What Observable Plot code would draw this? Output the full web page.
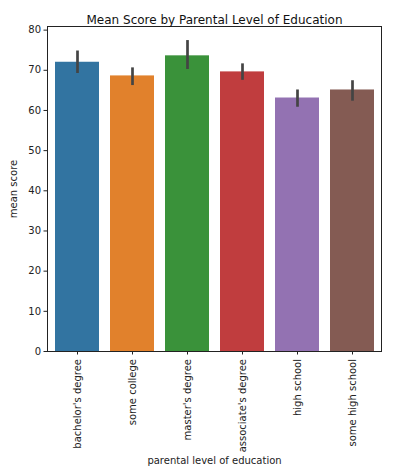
<!DOCTYPE html>
<html><head><meta charset="utf-8">
<script src="https://cdn.jsdelivr.net/npm/d3@7"></script>
<script src="https://cdn.jsdelivr.net/npm/@observablehq/plot@0.6"></script>
<style>body{margin:0;background:#fff}</style>
</head><body><div id="chart"></div>
<script>
const categories = ["bachelor's degree","some college","master's degree","associate's degree","high school","some high school"];
const meanScores = [72.0, 68.6, 73.6, 69.6, 63.1, 65.1];
const ciLow = [69.2, 66.2, 70.2, 67.5, 60.8, 62.3];
const ciHigh = [74.8, 70.6, 77.4, 71.6, 65.1, 67.4];
const colors = ["#3274a1","#e1812c","#3a923a","#c03d3e","#9372b2","#845b53"];
const yTicks = [0,10,20,30,40,50,60,70,80];

const data = categories.map((c,i)=>({cat:c, v:meanScores[i], lo:ciLow[i], hi:ciHigh[i]}));

const chart = Plot.plot({
  width: 408, height: 471,
  marginLeft: 47, marginRight: 27, marginTop: 26, marginBottom: 120,
  style: {fontFamily: "DejaVu Sans", fontSize: "10px", color: "#222", background: "#fff"},
  x: {domain: categories, paddingInner: 0.2, paddingOuter: 0.1, label: null},
  y: {domain: [0, 80.9], label: null},
  color: {domain: categories, range: colors},
  marks: [
    Plot.barY(data, {x: "cat", y: "v", fill: "cat"}),
    Plot.ruleX(data, {x: "cat", y1: "lo", y2: "hi", stroke: "#444", strokeWidth: 2.7}),
    Plot.frame({stroke: "#222", strokeWidth: 1}),
    Plot.axisY({ticks: yTicks, tickSize: 3.5, tickPadding: 3, fontSize: 10, label: "mean score", labelAnchor: "center", labelArrow: "none", labelOffset: 38}),
    Plot.axisX({tickSize: 3.5, tickRotate: -90, tickPadding: 4, fontSize: 10, label: "parental level of education", labelAnchor: "center", labelArrow: "none", labelOffset: 112}),
    Plot.text(["Mean Score by Parental Level of Education"], {frameAnchor: "top", dy: -11, fontSize: 12, fill: "#111"})
  ]
});
document.getElementById("chart").appendChild(chart);
</script>
</body></html>
